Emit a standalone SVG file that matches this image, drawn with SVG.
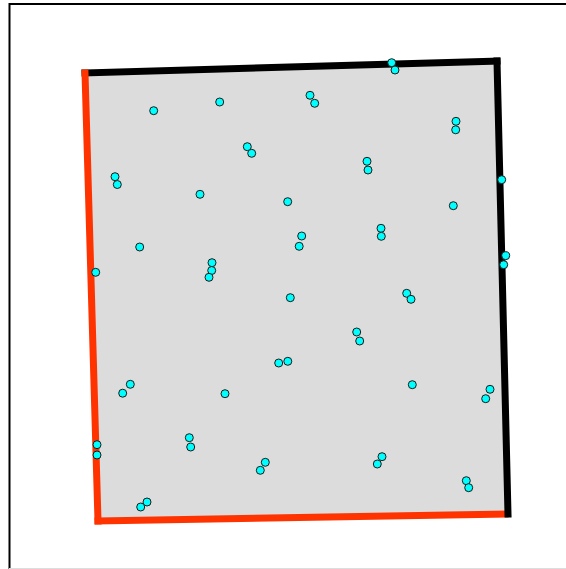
<svg xmlns="http://www.w3.org/2000/svg" width="566" height="569" viewBox="0 0 566 569">
<style>
.frame{fill:none;stroke:#000;stroke-width:2}
.edge-k{fill:none;stroke:#000;stroke-width:7;stroke-linecap:square}
.edge-r{fill:none;stroke:#ff3300;stroke-width:7;stroke-linecap:square}
.pt{fill:#00ffff;stroke:#1a1a1a;stroke-width:1}
</style>
<rect width="566" height="569" fill="#fff"/>
<path class="frame" d="M9.5,569 V4 H566"/>
<line x1="9" y1="568.5" x2="566" y2="568.5" stroke="#dddddd" stroke-width="1"/>
<g id="plot">
<polygon points="85,73 497,61 508,514 98,521" fill="#dcdcdc"/>
</g>
<g id="edges">
<line class="edge-k" x1="85" y1="73" x2="497" y2="61"/>
<line class="edge-r" x1="85" y1="73" x2="98" y2="521"/>
<line class="edge-r" x1="98" y1="521" x2="505" y2="514"/>
<line class="edge-k" x1="497" y1="61" x2="508" y2="514"/>
</g>
<g id="points">
<circle class="pt" cx="153.7" cy="110.7" r="4"/>
<circle class="pt" cx="219.7" cy="102" r="4"/>
<circle class="pt" cx="310" cy="95.3" r="4"/>
<circle class="pt" cx="314.7" cy="103.3" r="4"/>
<circle class="pt" cx="391.7" cy="62.7" r="4"/>
<circle class="pt" cx="395" cy="70" r="4"/>
<circle class="pt" cx="456" cy="121.3" r="4"/>
<circle class="pt" cx="455.7" cy="129.8" r="4"/>
<circle class="pt" cx="247.3" cy="146.7" r="4"/>
<circle class="pt" cx="251.7" cy="153.3" r="4"/>
<circle class="pt" cx="367" cy="161.3" r="4"/>
<circle class="pt" cx="368" cy="170" r="4"/>
<circle class="pt" cx="115" cy="176.7" r="4"/>
<circle class="pt" cx="117.3" cy="184.5" r="4"/>
<circle class="pt" cx="200" cy="194.3" r="4"/>
<circle class="pt" cx="287.7" cy="201.7" r="4"/>
<circle class="pt" cx="453.3" cy="205.7" r="4"/>
<circle class="pt" cx="501.7" cy="179.7" r="4"/>
<circle class="pt" cx="381" cy="228.3" r="4"/>
<circle class="pt" cx="381.3" cy="236.3" r="4"/>
<circle class="pt" cx="301.7" cy="236" r="4"/>
<circle class="pt" cx="299.2" cy="246.3" r="4"/>
<circle class="pt" cx="139.7" cy="247" r="4"/>
<circle class="pt" cx="212" cy="262.7" r="4"/>
<circle class="pt" cx="211.7" cy="270.5" r="4"/>
<circle class="pt" cx="209" cy="277.3" r="4"/>
<circle class="pt" cx="95.7" cy="272.3" r="4"/>
<circle class="pt" cx="505.7" cy="255.7" r="4"/>
<circle class="pt" cx="503.7" cy="264.7" r="4"/>
<circle class="pt" cx="290.3" cy="297.7" r="4"/>
<circle class="pt" cx="406.7" cy="293.3" r="4"/>
<circle class="pt" cx="411" cy="299.3" r="4"/>
<circle class="pt" cx="356.7" cy="332" r="4"/>
<circle class="pt" cx="359.7" cy="341" r="4"/>
<circle class="pt" cx="278.7" cy="363" r="4"/>
<circle class="pt" cx="287.8" cy="361.3" r="4"/>
<circle class="pt" cx="412.3" cy="384.7" r="4"/>
<circle class="pt" cx="130.3" cy="384.3" r="4"/>
<circle class="pt" cx="122.7" cy="393.2" r="4"/>
<circle class="pt" cx="225" cy="393.7" r="4"/>
<circle class="pt" cx="490" cy="389.3" r="4"/>
<circle class="pt" cx="485.7" cy="398.7" r="4"/>
<circle class="pt" cx="97" cy="444.7" r="4"/>
<circle class="pt" cx="97" cy="455" r="4"/>
<circle class="pt" cx="189.3" cy="437.7" r="4"/>
<circle class="pt" cx="190.7" cy="447" r="4"/>
<circle class="pt" cx="265.3" cy="462.3" r="4"/>
<circle class="pt" cx="260.3" cy="470.3" r="4"/>
<circle class="pt" cx="382" cy="456.7" r="4"/>
<circle class="pt" cx="377.3" cy="464" r="4"/>
<circle class="pt" cx="466.3" cy="480.7" r="4"/>
<circle class="pt" cx="468.7" cy="487.7" r="4"/>
<circle class="pt" cx="147" cy="502" r="4"/>
<circle class="pt" cx="140.7" cy="507" r="4"/>
</g>
</svg>
